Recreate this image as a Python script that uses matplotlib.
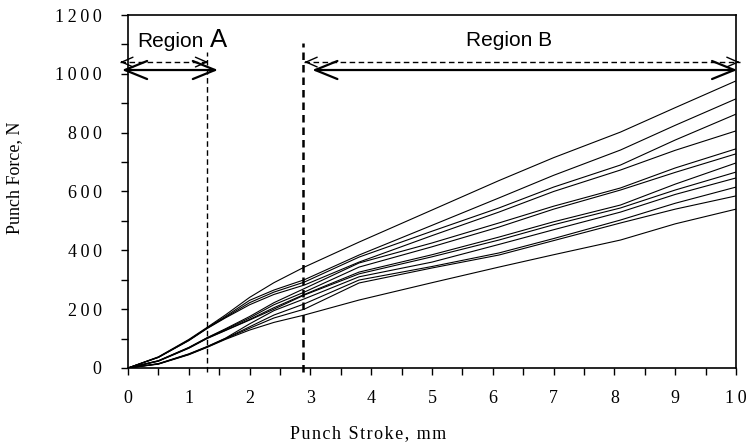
import matplotlib
matplotlib.use("Agg")
import matplotlib.pyplot as plt
from matplotlib.ticker import MultipleLocator

# Punch stroke sample positions (mm)
stroke = [0, 0.5, 1.0, 1.3, 1.6, 2.0, 2.4, 2.9, 3.8, 5.0, 6.1, 7.0, 8.1, 9.0, 10.0]

# Punch force curves (N)
force_1 = [0, 38, 97, 138, 180, 240, 290, 343, 428, 537, 637, 715, 802, 885, 976]
force_2 = [0, 37, 95, 136, 175, 230, 265, 300, 384, 485, 578, 655, 741, 825, 915]
force_3 = [0, 36, 94, 135, 172, 222, 258, 292, 377, 465, 544, 615, 690, 775, 863]
force_4 = [0, 36, 93, 134, 170, 215, 250, 282, 360, 450, 530, 600, 673, 740, 806]
force_5 = [0, 25, 70, 103, 133, 175, 222, 270, 357, 425, 493, 550, 612, 680, 745]
force_6 = [0, 24, 69, 102, 131, 170, 215, 258, 343, 412, 479, 540, 605, 665, 728]
force_7 = [0, 24, 68, 101, 128, 165, 205, 250, 326, 385, 445, 497, 554, 625, 697]
force_8 = [0, 23, 67, 100, 127, 163, 200, 248, 320, 378, 435, 487, 544, 605, 666]
force_9 = [0, 15, 48, 73, 101, 150, 195, 235, 310, 360, 420, 470, 530, 590, 646]
force_10 = [0, 14, 47, 72, 100, 140, 180, 218, 299, 345, 391, 440, 503, 560, 615]
force_11 = [0, 14, 46, 71, 99, 135, 170, 200, 289, 340, 384, 433, 493, 540, 585]
force_12 = [0, 13, 45, 70, 97, 129, 155, 180, 231, 290, 343, 385, 435, 490, 540]
curves = [force_1, force_2, force_3, force_4, force_5, force_6,
          force_7, force_8, force_9, force_10, force_11, force_12]

x_ticks = [0, 1, 2, 3, 4, 5, 6, 7, 8, 9, 10]
y_ticks = [0, 200, 400, 600, 800, 1000, 1200]
x_label = "Punch Stroke, mm"
y_label = "Punch Force, N"

# Region boundaries (mm)
region_a_end = 1.3
region_b_start = 2.88

THIN = "\u2009"  # thin space used as letter spacing
HAIR = "\u200a"  # hair space used as letter spacing
def spaced(s, sp):
    return sp.join(list(s))

serif = ["Liberation Serif", "DejaVu Serif"]

fig = plt.figure(figsize=(7.46, 4.48), dpi=100)
ax = fig.add_axes([0.1716, 0.1786, 0.8150, 0.7879])

for f in curves:
    ax.plot(stroke, f, color="black", lw=0.8)

ax.set_xlim(0, 10)
ax.set_ylim(0, 1200)
ax.set_xticks(x_ticks)
ax.set_yticks(y_ticks)
ax.set_xticklabels([spaced(str(v), THIN) for v in x_ticks])
ax.set_yticklabels([spaced(str(v), THIN) for v in y_ticks])
ax.xaxis.set_minor_locator(MultipleLocator(0.5))
ax.yaxis.set_minor_locator(MultipleLocator(100))
ax.tick_params(which="both", direction="out", length=5, width=1, color="black",
               top=False, right=False)
ax.tick_params(axis="x", pad=11)
ax.tick_params(axis="y", pad=14)
for lab in ax.get_xticklabels() + ax.get_yticklabels():
    lab.set_fontfamily(serif)
    lab.set_fontsize(13)
for s in ax.spines.values():
    s.set_linewidth(1.2)

ax.set_xlabel(spaced(x_label, HAIR), fontfamily=serif, fontsize=13)
ax.xaxis.set_label_coords(0.395, -0.162)
ax.set_ylabel(y_label, fontfamily=serif, fontsize=13)
ax.yaxis.set_label_coords(-0.172, 0.538)

# Vertical dashed region boundaries
ax.plot([region_a_end, region_a_end], [-12, 1074], color="black", lw=1.0,
        ls=(0, (4, 2.5)), clip_on=False)
ax.plot([region_b_start, region_b_start], [-12, 1105], color="black", lw=1.8,
        ls=(0, (3, 2)), clip_on=False)

def head(tip, frm, y, lw, hl, hw):
    ax.annotate("", xy=(tip, y), xytext=(frm, y),
                arrowprops=dict(arrowstyle=f"->,head_length={hl},head_width={hw}",
                                mutation_scale=1, lw=lw, color="black",
                                shrinkA=0, shrinkB=0),
                annotation_clip=False)

def solid_arrow(x0, x1, y):
    ax.annotate("", xy=(x1, y), xytext=(x0, y),
                arrowprops=dict(arrowstyle="<->,head_length=16,head_width=6.5",
                                mutation_scale=1, lw=1.6, color="black",
                                shrinkA=0, shrinkB=0),
                annotation_clip=False)

def dashed_arrow(x0, x1, y):
    ax.plot([x0, x1], [y, y], color="black", lw=1.0, ls=(0, (4, 2.5)), clip_on=False)
    head(x0, x0 + 0.05, y, 1.0, 8, 3.5)
    head(x1, x1 - 0.05, y, 1.0, 8, 3.5)

# Region A arrows
dashed_arrow(-0.13, 1.32, 1040)
solid_arrow(-0.10, 1.48, 1013)
# Region B arrows
dashed_arrow(2.90, 10.06, 1040)
solid_arrow(3.03, 10.02, 1013)

ax.text(0.15, 1091, "Region", fontfamily="Liberation Sans", fontsize=15,
        ha="left", va="baseline")
ax.text(1.35, 1091, "A", fontfamily="Liberation Sans", fontsize=18.5,
        ha="left", va="baseline")
ax.text(6.26, 1094, "Region B", fontfamily="Liberation Sans", fontsize=15,
        ha="center", va="baseline")

fig.savefig("out.png", dpi=100)
